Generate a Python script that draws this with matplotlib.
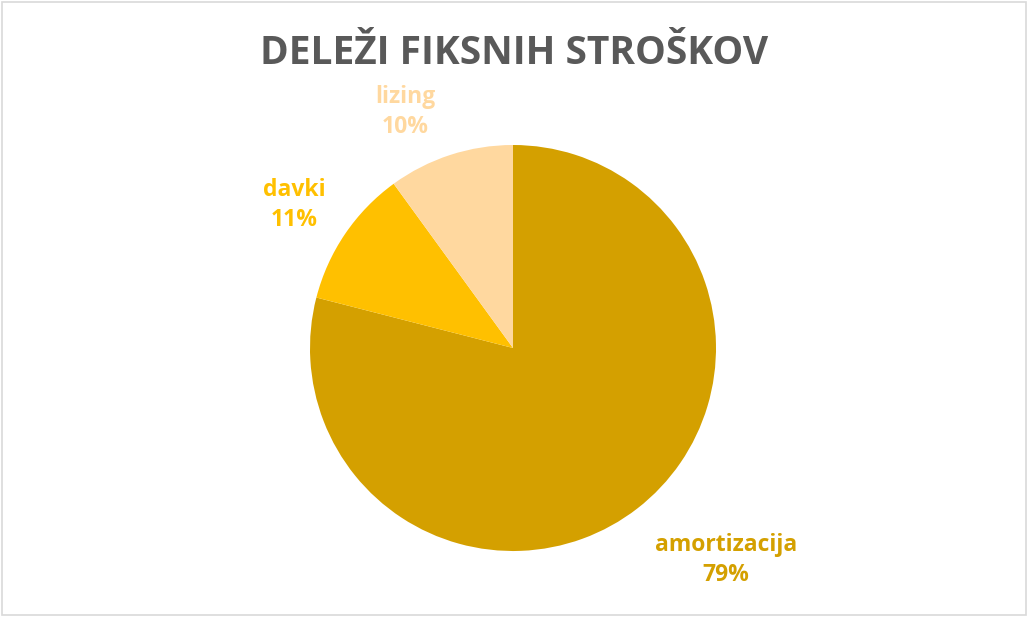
import matplotlib.pyplot as plt
from matplotlib.patches import Rectangle

# Data
categories = ["amortizacija", "davki", "lizing"]
shares = [79, 11, 10]
colors = ["#D4A000", "#FFC000", "#FFD89F"]
label_colors = ["#D4A000", "#FFC000", "#FFD89F"]

W, H = 1030, 620
fig = plt.figure(figsize=(W / 100, H / 100), dpi=100)
ax = fig.add_axes([0, 0, 1, 1])

# Outer chart frame
ax.add_patch(Rectangle((2, 5), W - 6, H - 7, fill=False, edgecolor="#D9D9D9", lw=1.2))

# Pie (center/radius in pixel-like data units)
cx, cy, r = 513, H - 348, 203
ax.pie(shares, colors=colors, startangle=90, counterclock=False,
       center=(cx, cy), radius=r, frame=True,
       wedgeprops=dict(linewidth=0))
ax.set_xlim(0, W)
ax.set_ylim(0, H)
ax.set_aspect("equal")
ax.axis("off")

# Data labels (name + percent), placed like the Excel "best fit" labels
label_pos = {"amortizacija": (726, 560), "davki": (294, 205), "lizing": (405, 112)}
for cat, val, col in zip(categories, shares, label_colors):
    x, y = label_pos[cat]
    ax.text(x, H - y, f"{cat}\n{val}%", ha="center", va="center", color=col,
            fontsize=16.5, fontweight="bold", family="Open Sans", linespacing=1.3)

# Title
ax.text(W / 2 - 1, H - 54, "DELEŽI FIKSNIH STROŠKOV", ha="center", va="center",
        color="#595959", fontsize=28, fontweight="bold", family="Open Sans")

fig.savefig("out.png", dpi=100)
